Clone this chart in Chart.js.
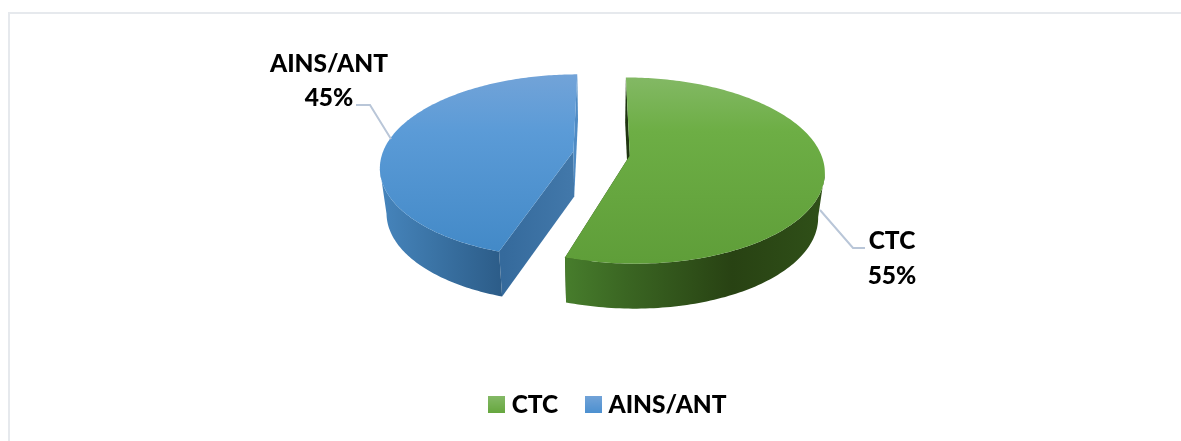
<!DOCTYPE html>
<html>
<head>
<meta charset="utf-8">
<script src="https://cdn.jsdelivr.net/npm/chart.js@4"></script>
<style>
  html, body { margin: 0; padding: 0; background: #fff; }
  #wrap { position: relative; width: 1181px; height: 441px; overflow: hidden; }
  #frame { position: absolute; left: 8px; top: 12px; width: 1400px; height: 500px; border: 2px solid #e6e9ed; box-sizing: border-box; }
</style>
</head>
<body>
<div id="wrap">
  <div id="frame"></div>
  <canvas id="pieChart" width="1181" height="441" style="position:relative"></canvas>
</div>
<script>
const categories = ['CTC', 'AINS/ANT'];
const shares = [55, 45];
const sliceColors = ['#6cad44', '#5b9bd5'];

const FONT = 'Lato, Carlito, sans-serif';
const FONT_WEIGHT = '900';
const FONT_SIZE = 24.5;

// perspective of the tilted disc, tuned by eye against the picture
const view = { x0: 601.5, y0: 153.5, fx: 191, fy: 90, k: 0.16, depth: 45, lowScale: 0.97 };

const faceStops = [
  [[0, '#84b966'], [0.3, '#6dae45'], [1, '#5f9e39']],
  [[0, '#72a3d8'], [0.3, '#5b9bd7'], [1, '#4188c6']],
];
const wallStops = [
  { from: 565, to: 818, stops: [[0, '#477d2c'], [0.25, '#3a6522'], [0.66, '#284213'], [1, '#2f4f18']] },
  { from: 385, to: 502, stops: [[0, '#4583ba'], [0.4, '#3b74a6'], [1, '#2c5c88']] },
];
const cutStops = [
  { from: 565, to: 627, stops: [[0, '#2a4715'], [1, '#1f3510']] },
  { from: 503, to: 577, stops: [[0, '#356a9c'], [1, '#4379ab']] },
];

function project(nx, ny, low) {
  const w = 1 - view.k * ny;
  const s = low ? view.lowScale : 1;
  return {
    x: view.x0 + (view.fx * nx / w) * s,
    y: view.y0 + (view.fy * ny / w) + (low ? view.depth : 0),
  };
}

function gradient(ctx, x1, y1, x2, y2, stops) {
  const g = ctx.createLinearGradient(x1, y1, x2, y2);
  stops.forEach(s => g.addColorStop(s[0], s[1]));
  return g;
}

function poly(ctx, pts, fill) {
  ctx.beginPath();
  pts.forEach((p, i) => (i ? ctx.lineTo(p.x, p.y) : ctx.moveTo(p.x, p.y)));
  ctx.closePath();
  ctx.fillStyle = fill;
  ctx.fill();
}

// draw the slices from the arc elements the library laid out
const pie3d = {
  id: 'pie3d',
  beforeDatasetsDraw(chart) {
    const ctx = chart.ctx;
    const arcs = chart.getDatasetMeta(0).data;
    ctx.save();
    arcs.forEach((arc, i) => {
      const mid = (arc.startAngle + arc.endAngle) / 2;
      const e = arc.options.offset / arc.outerRadius;
      const ox = Math.cos(mid) * e;
      const oy = Math.sin(mid) * e;
      const rim = [];
      const steps = 180;
      for (let n = 0; n <= steps; n++) {
        const a = arc.startAngle + (arc.endAngle - arc.startAngle) * n / steps;
        rim.push([Math.cos(a) + ox, Math.sin(a) + oy]);
      }
      const topRim = rim.map(p => project(p[0], p[1], false));
      const lowRim = rim.map(p => project(p[0], p[1], true));
      const topApex = project(ox, oy, false);
      const lowApex = project(ox, oy, true);

      const cut = cutStops[i];
      const cutFill = gradient(ctx, cut.from, 0, cut.to, 0, cut.stops);
      poly(ctx, [topApex, topRim[0], lowRim[0], lowApex], i === 0 ? '#1f3510' : cutFill);
      poly(ctx, [topApex, topRim[steps], lowRim[steps], lowApex], i === 0 ? cutFill : '#4f8bc4');

      // only the front of the rim shows a wall, from the widest point round to the front
      let widest = 0;
      topRim.forEach((p, n) => {
        if (Math.abs(p.x - view.x0) > Math.abs(topRim[widest].x - view.x0)) widest = n;
      });
      const keep = (p, n) => topRim[n].y >= topRim[widest].y;
      const wall = wallStops[i];
      poly(ctx, topRim.filter(keep).concat(lowRim.filter(keep).reverse()),
        gradient(ctx, wall.from, 0, wall.to, 0, wall.stops));

      poly(ctx, [topApex].concat(topRim), gradient(ctx, 0, 75, 0, 262, faceStops[i]));
    });
    ctx.restore();
    return false;
  },
};

const calloutPos = [
  { tx: 892, ty1: 241, ty2: 276, line: [[865, 248], [853, 248], [820, 210]] },
  { tx: 329, ty1: 64, ty2: 98, line: [[356, 105], [370, 105], [391, 139]] },
];

const callouts = {
  id: 'callouts',
  afterDraw(chart) {
    const ctx = chart.ctx;
    const total = shares.reduce((a, b) => a + b, 0);
    ctx.save();
    categories.forEach((name, i) => {
      const c = calloutPos[i];
      ctx.beginPath();
      c.line.forEach((p, n) => (n ? ctx.lineTo(p[0], p[1]) : ctx.moveTo(p[0], p[1])));
      ctx.strokeStyle = '#b9c6d8';
      ctx.lineWidth = 2;
      ctx.stroke();
      ctx.fillStyle = '#000';
      ctx.font = FONT_WEIGHT + ' ' + FONT_SIZE + 'px ' + FONT;
      ctx.textAlign = 'center';
      ctx.textBaseline = 'middle';
      ctx.fillText(name, c.tx, c.ty1);
      ctx.fillText(Math.round(shares[i] / total * 100) + '%', c.tx, c.ty2);
    });
    ctx.restore();
  },
};

function swatch(stops) {
  const c = document.createElement('canvas');
  c.width = 17;
  c.height = 17;
  const x = c.getContext('2d');
  x.fillStyle = gradient(x, 0, 0, 0, 17, stops);
  x.fillRect(0, 0, 17, 17);
  return c;
}
const swatches = [
  swatch([[0, '#84b966'], [1, '#66a73e']]),
  swatch([[0, '#72a3d8'], [1, '#4c90d0']]),
];

new Chart(document.getElementById('pieChart'), {
  type: 'pie',
  data: {
    labels: categories,
    datasets: [{ data: shares, backgroundColor: sliceColors, borderWidth: 0, offset: 25 }],
  },
  options: {
    responsive: false,
    animation: false,
    layout: { padding: { left: 40, bottom: 14 } },
    plugins: {
      tooltip: { enabled: false },
      legend: {
        position: 'bottom',
        labels: {
          usePointStyle: true,
          pointStyleWidth: 5,
          boxHeight: 17,
          padding: 33,
          color: '#000',
          font: { family: FONT, size: FONT_SIZE, weight: FONT_WEIGHT },
          generateLabels(chart) {
            return categories.map((name, i) => ({
              text: name,
              index: i,
              datasetIndex: 0,
              pointStyle: swatches[i],
              fillStyle: sliceColors[i],
              lineWidth: 0,
              hidden: false,
            }));
          },
        },
      },
    },
  },
  plugins: [pie3d, callouts],
});
</script>
</body>
</html>
